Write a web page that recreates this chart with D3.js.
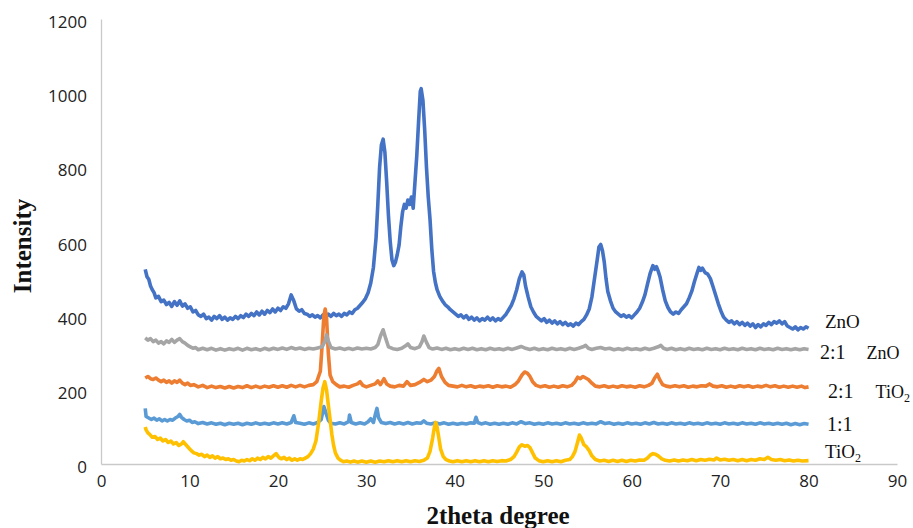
<!DOCTYPE html>
<html>
<head>
<meta charset="utf-8">
<script src="https://cdn.jsdelivr.net/npm/d3@7"></script>
<style>
  html, body { margin: 0; padding: 0; background: #fff; }
  svg { display: block; }
  .axis path { stroke: #c9c9c9; stroke-width: 1.3; }
  .axis text { font-family: "Open Sans", "Noto Sans", sans-serif; font-size: 17px; fill: #222; }
  .title { font-family: "Liberation Serif", "DejaVu Serif", serif; font-weight: bold; fill: #111; }
  .lbl { font-family: "Liberation Serif", "DejaVu Serif", serif; fill: #111; }
  .curve { fill: none; stroke-width: 3.6; stroke-linejoin: round; }
</style>
</head>
<body>
<div id="chart"></div>
<script>
/* ================= Data ================= */

const xTicks = [0, 10, 20, 30, 40, 50, 60, 70, 80, 90];
const yTicks = [0, 200, 400, 600, 800, 1000, 1200];

const seriesNames = ["ZnO", "1:1", "2:1 TiO2", "2:1 ZnO", "TiO2"];

// [2theta, intensity]
const zno = [
  [5.0,525],[5.2,505],[5.4,498],[5.6,480],[5.8,470],[6.0,462],[6.2,448],[6.5,452],[6.8,438],[7.1,442],
  [7.4,430],[7.7,436],[8.0,425],[8.3,438],[8.6,428],[8.9,440],[9.2,426],[9.5,432],[9.8,420],[10.1,424],
  [10.4,410],[10.7,414],[11.0,402],[11.3,398],[11.6,404],[11.9,392],[12.2,396],[12.5,388],[12.8,398],[13.1,392],
  [13.4,400],[13.7,390],[14.0,396],[14.3,388],[14.6,394],[14.9,390],[15.2,398],[15.5,392],[15.8,400],[16.1,395],
  [16.4,404],[16.7,398],[17.0,406],[17.3,400],[17.6,410],[17.9,402],[18.2,412],[18.5,404],[18.8,414],[19.1,408],
  [19.4,418],[19.7,410],[20.0,420],[20.3,414],[20.6,424],[20.9,420],[21.2,432],[21.5,456],[21.8,440],[22.1,418],
  [22.4,412],[22.7,416],[23.0,406],[23.3,404],[23.6,398],[23.9,402],[24.2,396],[24.5,400],[24.8,394],[25.1,402],
  [25.4,396],[25.7,404],[26.0,398],[26.3,406],[26.6,400],[26.9,404],[27.2,398],[27.5,406],[27.8,402],[28.1,410],
  [28.4,406],[28.7,416],[29.0,420],[29.3,428],[29.6,436],[29.9,446],[30.2,462],[30.5,488],[30.8,530],[31.1,610],
  [31.3,700],[31.5,800],[31.7,860],[31.9,876],[32.1,840],[32.3,760],[32.5,670],[32.7,600],[32.9,550],[33.1,535],
  [33.3,545],[33.5,565],[33.7,590],[33.9,640],[34.1,680],[34.3,700],[34.5,690],[34.7,712],[34.9,700],[35.1,720],
  [35.3,690],[35.5,760],[35.7,830],[35.9,920],[36.1,1005],[36.2,1012],[36.4,980],[36.6,900],[36.8,800],[37.0,720],
  [37.2,660],[37.4,580],[37.6,520],[37.8,490],[38.0,470],[38.3,452],[38.6,440],[38.9,430],[39.2,424],[39.5,416],
  [39.8,410],[40.1,404],[40.4,398],[40.7,402],[41.0,394],[41.3,400],[41.6,390],[41.9,396],[42.2,388],[42.5,394],
  [42.8,386],[43.1,392],[43.4,388],[43.7,396],[44.0,388],[44.3,394],[44.6,386],[44.9,392],[45.2,388],[45.5,396],
  [45.8,404],[46.1,416],[46.4,428],[46.7,446],[47.0,470],[47.3,500],[47.6,518],[47.8,510],[48.0,480],[48.3,450],
  [48.6,424],[48.9,410],[49.2,398],[49.5,392],[49.8,386],[50.1,392],[50.4,382],[50.7,388],[51.0,380],[51.3,386],
  [51.6,378],[51.9,384],[52.2,376],[52.5,382],[52.8,374],[53.1,378],[53.4,372],[53.7,380],[54.0,376],[54.3,384],
  [54.6,390],[54.9,402],[55.2,418],[55.5,450],[55.8,500],[56.1,550],[56.3,585],[56.5,592],[56.7,575],[56.9,545],
  [57.1,500],[57.3,465],[57.6,440],[57.9,420],[58.2,410],[58.5,404],[58.8,398],[59.1,402],[59.4,396],[59.7,400],
  [60.0,394],[60.3,402],[60.6,410],[60.9,420],[61.2,436],[61.5,456],[61.8,486],[62.1,515],[62.4,535],[62.6,525],
  [62.8,532],[63.0,520],[63.2,505],[63.5,470],[63.8,440],[64.1,422],[64.4,410],[64.7,404],[65.0,410],[65.3,406],
  [65.6,416],[65.9,424],[66.2,432],[66.5,448],[66.8,466],[67.1,492],[67.4,515],[67.6,530],[67.8,522],[68.0,528],
  [68.3,516],[68.6,512],[68.9,500],[69.2,478],[69.5,455],[69.8,432],[70.1,412],[70.4,396],[70.7,388],[71.0,382],
  [71.3,386],[71.6,378],[71.9,384],[72.2,376],[72.5,382],[72.8,374],[73.1,380],[73.4,372],[73.7,378],[74.0,368],
  [74.3,376],[74.6,370],[74.9,378],[75.2,374],[75.5,382],[75.8,376],[76.1,384],[76.4,380],[76.7,386],[77.0,378],
  [77.3,384],[77.6,372],[77.9,368],[78.2,364],[78.5,370],[78.8,362],[79.1,368],[79.4,364],[79.7,370],[80.0,366]
];

const ratio21zno = [
  [5.0,340],[5.3,334],[5.6,338],[5.9,330],[6.2,334],[6.5,326],[6.8,330],[7.1,324],[7.4,332],[7.7,328],
  [8.0,336],[8.3,328],[8.6,334],[8.9,338],[9.2,330],[9.5,326],[9.8,320],[10.1,316],[10.4,312],[10.7,314],
  [11.0,308],[11.5,312],[12.0,308],[12.5,312],[13.0,307],[13.5,311],[14.0,307],[14.5,311],[15.0,308],[15.5,312],
  [16.0,307],[16.5,312],[17.0,308],[17.5,311],[18.0,307],[18.5,312],[19.0,308],[19.5,312],[20.0,309],[20.5,313],
  [21.0,309],[21.5,314],[22.0,310],[22.5,313],[23.0,309],[23.5,312],[24.0,310],[24.5,313],[25.0,316],[25.3,330],
  [25.5,348],[25.7,332],[26.0,314],[26.5,310],[27.0,313],[27.5,309],[28.0,312],[28.5,309],[29.0,313],[29.5,310],
  [30.0,312],[30.5,310],[31.0,314],[31.3,322],[31.6,345],[31.9,362],[32.2,338],[32.5,316],[33.0,311],[33.5,309],
  [34.0,312],[34.4,318],[34.7,324],[35.0,314],[35.5,311],[36.0,316],[36.3,330],[36.5,345],[36.8,328],[37.1,314],
  [37.5,310],[38.0,313],[38.5,309],[39.0,312],[39.5,308],[40.0,311],[40.5,308],[41.0,312],[41.5,309],[42.0,312],
  [42.5,308],[43.0,311],[43.5,308],[44.0,312],[44.5,309],[45.0,311],[45.5,308],[46.0,312],[46.5,309],[47.0,313],
  [47.5,317],[48.0,312],[48.5,309],[49.0,312],[49.5,308],[50.0,311],[50.5,308],[51.0,312],[51.5,309],[52.0,311],
  [52.5,308],[53.0,312],[53.5,309],[54.0,312],[54.5,316],[54.8,320],[55.1,312],[55.5,309],[56.0,312],[56.5,314],
  [57.0,310],[57.5,312],[58.0,308],[58.5,311],[59.0,308],[59.5,312],[60.0,309],[60.5,311],[61.0,308],[61.5,312],
  [62.0,309],[62.5,312],[63.0,316],[63.3,320],[63.6,312],[64.0,309],[64.5,312],[65.0,308],[65.5,311],[66.0,308],
  [66.5,312],[67.0,309],[67.5,311],[68.0,308],[68.5,312],[69.0,309],[69.5,311],[70.0,308],[70.5,312],[71.0,309],
  [71.5,311],[72.0,308],[72.5,312],[73.0,309],[73.5,311],[74.0,308],[74.5,312],[75.0,309],[75.5,311],[76.0,308],
  [76.5,312],[77.0,309],[77.5,311],[78.0,308],[78.5,311],[79.0,308],[79.5,311],[80.0,309]
];

const ratio21tio2 = [
  [5.0,232],[5.3,236],[5.6,230],[5.9,228],[6.2,232],[6.5,226],[6.8,222],[7.1,226],[7.4,220],[7.7,224],
  [8.0,218],[8.3,224],[8.6,220],[8.9,226],[9.2,218],[9.5,214],[9.8,218],[10.1,212],[10.5,214],[11.0,208],
  [11.5,212],[12.0,206],[12.5,210],[13.0,206],[13.5,209],[14.0,205],[14.5,209],[15.0,205],[15.5,209],[16.0,206],
  [16.5,211],[17.0,206],[17.5,210],[18.0,206],[18.5,210],[19.0,207],[19.5,211],[20.0,207],[20.5,211],[21.0,207],
  [21.5,212],[22.0,208],[22.5,212],[23.0,208],[23.5,212],[24.0,214],[24.4,222],[24.8,250],[25.0,320],[25.2,400],
  [25.35,418],[25.5,395],[25.7,300],[25.9,240],[26.2,222],[26.6,214],[27.0,208],[27.5,210],[28.0,207],[28.5,212],
  [29.0,216],[29.3,222],[29.6,212],[30.0,208],[30.5,212],[31.0,216],[31.3,224],[31.6,214],[32.0,230],[32.3,216],
  [32.7,210],[33.2,208],[33.7,212],[34.2,210],[34.6,222],[35.0,212],[35.5,214],[36.0,220],[36.5,228],[36.9,222],
  [37.3,226],[37.7,236],[38.0,252],[38.2,258],[38.5,236],[38.9,220],[39.3,212],[39.8,210],[40.3,208],[40.8,212],
  [41.3,208],[41.8,211],[42.3,207],[42.8,210],[43.3,208],[43.8,211],[44.3,207],[44.8,211],[45.3,208],[45.8,210],
  [46.3,207],[46.8,214],[47.2,224],[47.6,240],[47.9,248],[48.2,245],[48.5,236],[48.8,222],[49.2,212],[49.7,208],
  [50.2,211],[50.7,207],[51.2,210],[51.7,207],[52.2,211],[52.7,208],[53.2,212],[53.6,222],[53.9,234],[54.2,230],
  [54.5,236],[54.8,232],[55.1,228],[55.5,218],[55.9,210],[56.4,208],[56.9,211],[57.4,207],[57.9,210],[58.4,207],
  [58.9,211],[59.4,208],[59.9,210],[60.4,207],[60.9,211],[61.4,208],[61.9,212],[62.3,218],[62.6,232],[62.9,242],
  [63.2,226],[63.5,214],[63.9,210],[64.4,208],[64.9,211],[65.4,208],[65.9,211],[66.4,207],[66.9,210],[67.4,208],
  [67.9,211],[68.4,210],[68.8,216],[69.2,210],[69.7,208],[70.2,211],[70.7,207],[71.2,210],[71.7,207],[72.2,211],
  [72.7,208],[73.2,211],[73.7,207],[74.2,210],[74.7,208],[75.2,212],[75.7,208],[76.2,211],[76.7,207],[77.2,210],
  [77.7,207],[78.2,210],[78.7,207],[79.2,210],[79.6,206],[80.0,208]
];

const ratio11 = [
  [5.0,150],[5.1,128],[5.4,124],[5.7,120],[6.0,124],[6.3,118],[6.6,122],[6.9,116],[7.2,120],[7.5,116],
  [7.8,120],[8.1,118],[8.4,124],[8.7,128],[8.9,134],[9.1,126],[9.4,120],[9.7,116],[10.0,118],[10.3,112],
  [10.6,114],[11.0,109],[11.5,112],[12.0,108],[12.5,111],[13.0,107],[13.5,110],[14.0,106],[14.5,110],[15.0,107],
  [15.5,110],[16.0,106],[16.5,110],[17.0,107],[17.5,111],[18.0,107],[18.5,110],[19.0,107],[19.5,111],[20.0,108],
  [20.5,111],[21.0,108],[21.5,112],[21.8,130],[22.0,112],[22.5,110],[23.0,107],[23.5,111],[24.0,108],[24.5,112],
  [24.9,120],[25.2,155],[25.4,140],[25.7,118],[26.0,110],[26.5,108],[27.0,111],[27.5,108],[28.0,114],[28.1,132],
  [28.3,112],[28.8,108],[29.3,111],[29.8,108],[30.2,114],[30.5,122],[30.8,112],[31.0,132],[31.2,150],[31.4,124],
  [31.7,112],[32.2,109],[32.7,112],[33.2,108],[33.7,111],[34.2,108],[34.7,112],[35.2,108],[35.7,111],[36.2,110],
  [36.5,116],[36.8,110],[37.3,108],[37.8,111],[38.3,108],[38.8,111],[39.3,107],[39.8,110],[40.3,107],[40.8,110],
  [41.3,108],[41.8,111],[42.2,110],[42.4,126],[42.6,112],[43.0,108],[43.5,111],[44.0,107],[44.5,110],[45.0,107],
  [45.5,110],[46.0,107],[46.5,111],[47.0,108],[47.5,114],[48.0,109],[48.5,111],[49.0,107],[49.5,110],[50.0,107],
  [50.5,111],[51.0,108],[51.5,110],[52.0,107],[52.5,111],[53.0,108],[53.5,110],[54.0,107],[54.5,111],[55.0,108],
  [55.5,110],[56.0,108],[56.5,114],[57.0,109],[57.5,111],[58.0,107],[58.5,110],[59.0,107],[59.5,111],[60.0,108],
  [60.5,110],[61.0,107],[61.5,111],[62.0,108],[62.5,112],[63.0,108],[63.5,110],[64.0,107],[64.5,111],[65.0,108],
  [65.5,110],[66.0,107],[66.5,111],[67.0,108],[67.5,110],[68.0,107],[68.5,111],[69.0,108],[69.5,110],[70.0,107],
  [70.5,111],[71.0,108],[71.5,110],[72.0,107],[72.5,111],[73.0,108],[73.5,110],[74.0,107],[74.5,111],[75.0,108],
  [75.5,110],[76.0,107],[76.5,110],[77.0,107],[77.5,110],[78.0,106],[78.5,109],[79.0,106],[79.5,109],[80.0,107]
];

const tio2 = [
  [5.0,100],[5.1,92],[5.3,84],[5.5,80],[5.8,72],[6.1,74],[6.4,66],[6.7,70],[7.0,62],[7.3,66],
  [7.6,58],[7.9,62],[8.2,54],[8.5,58],[8.8,50],[9.1,54],[9.3,60],[9.6,52],[9.9,44],[10.2,36],
  [10.5,30],[10.8,28],[11.1,24],[11.4,26],[11.7,20],[12.0,24],[12.3,18],[12.6,22],[12.9,16],[13.2,20],
  [13.5,14],[13.8,16],[14.1,12],[14.4,14],[14.7,10],[15.0,12],[15.3,8],[15.6,6],[15.9,10],[16.2,8],
  [16.5,12],[16.8,9],[17.1,14],[17.4,10],[17.7,16],[18.0,12],[18.3,18],[18.6,14],[18.9,20],[19.2,16],
  [19.5,22],[19.8,28],[20.1,18],[20.4,14],[20.7,18],[21.0,12],[21.3,16],[21.6,10],[21.9,14],[22.2,10],
  [22.5,14],[22.8,12],[23.1,16],[23.4,20],[23.7,28],[24.0,40],[24.3,62],[24.6,110],[24.9,170],[25.1,205],
  [25.3,222],[25.5,200],[25.7,160],[25.9,120],[26.1,80],[26.3,50],[26.5,30],[26.8,16],[27.1,10],[27.4,6],
  [27.8,8],[28.2,5],[28.6,8],[29.0,5],[29.5,8],[30.0,5],[30.5,8],[31.0,5],[31.5,8],[32.0,6],
  [32.5,9],[33.0,6],[33.5,9],[34.0,6],[34.5,9],[35.0,6],[35.5,9],[36.0,7],[36.5,10],[36.9,16],
  [37.2,34],[37.5,70],[37.7,100],[37.85,112],[38.0,100],[38.2,70],[38.4,40],[38.7,20],[39.0,12],[39.4,8],
  [39.8,6],[40.3,9],[40.8,6],[41.3,9],[41.8,6],[42.3,9],[42.8,6],[43.3,9],[43.8,6],[44.3,9],
  [44.8,7],[45.3,9],[45.8,8],[46.3,12],[46.7,20],[47.0,32],[47.3,46],[47.6,52],[47.9,48],[48.2,50],
  [48.5,44],[48.8,30],[49.1,16],[49.5,9],[50.0,6],[50.5,9],[51.0,6],[51.5,9],[52.0,6],[52.5,10],
  [53.0,12],[53.3,20],[53.6,34],[53.9,60],[54.1,78],[54.3,70],[54.6,52],[54.9,46],[55.2,36],[55.5,22],
  [55.9,12],[56.4,8],[56.9,10],[57.4,7],[57.9,10],[58.4,7],[58.9,10],[59.4,7],[59.9,10],[60.4,8],
  [60.9,11],[61.4,10],[61.8,16],[62.1,24],[62.4,28],[62.7,26],[63.0,22],[63.4,14],[63.8,10],[64.3,8],
  [64.8,11],[65.3,8],[65.8,11],[66.3,9],[66.8,12],[67.3,9],[67.8,12],[68.3,10],[68.8,13],[69.3,11],
  [69.6,16],[70.0,11],[70.5,13],[71.0,10],[71.5,12],[72.0,9],[72.5,12],[73.0,9],[73.5,12],[74.0,10],
  [74.5,14],[75.0,12],[75.4,18],[75.8,12],[76.3,10],[76.8,12],[77.3,9],[77.8,11],[78.3,8],[78.8,10],
  [79.3,8],[80.0,9]
];

const seriesData = [zno, ratio11, ratio21tio2, ratio21zno, tio2];

/* ================= Layout / style ================= */

const W = 913, H = 528;
const colors = ["#4472C4", "#5B9BD5", "#ED7D31", "#A5A5A5", "#FFC000"];

const svg = d3.select("#chart").append("svg")
  .attr("width", W)
  .attr("height", H);

const x = d3.scaleLinear().domain([0, 90]).range([101, 897]);
const y = d3.scaleLinear().domain([0, 1200]).range([464, 19]);

/* ===== Axes ===== */

svg.append("g")
  .attr("class", "axis")
  .attr("transform", `translate(0,${y(0)})`)
  .call(d3.axisBottom(x).tickValues(xTicks).tickSize(0).tickPadding(11).tickFormat(d3.format("d")));

const yAxis = svg.append("g")
  .attr("class", "axis")
  .attr("transform", `translate(${x(0)},0)`)
  .call(d3.axisLeft(y).tickValues(yTicks).tickSize(0).tickPadding(14).tickFormat(d3.format("d")));

yAxis.selectAll("text").attr("dy", "0.5em");

/* ===== Lines ===== */

const line = d3.line()
  .x(d => x(d[0]))
  .y(d => y(d[1]));

svg.selectAll(".curve")
  .data(seriesData)
  .enter()
  .append("path")
  .attr("class", "curve")
  .attr("stroke", (d, i) => colors[i])
  .attr("stroke-width", (d, i) => i === 0 ? 4 : 3.6)
  .attr("d", line);

/* ===== Titles ===== */

svg.append("text")
  .attr("class", "title")
  .attr("x", 498)
  .attr("y", 524)
  .attr("text-anchor", "middle")
  .style("font-size", "25px")
  .text("2theta degree");

svg.append("text")
  .attr("class", "title")
  .attr("transform", "translate(31,246) rotate(-90)")
  .attr("text-anchor", "middle")
  .style("font-size", "25px")
  .text("Intensity");

/* ===== Series labels ===== */

const labelSpots = [
  { x: 825, y: 328, parts: [["ZnO", 19, 0]] },
  { x: 820, y: 359, parts: [["2:1", 20, 0], ["ZnO", 18, 21]] },
  { x: 828, y: 398, parts: [["2:1", 20, 0], ["TiO", 18, 22], ["2", 12, 0, 4]] },
  { x: 827, y: 431, parts: [["1:1", 20, 0]] },
  { x: 825, y: 458, parts: [["TiO", 19, 0], ["2", 12, 0, 4]] }
];

labelSpots.forEach((s, i) => {
  const t = svg.append("text")
    .attr("class", "lbl")
    .attr("x", s.x)
    .attr("y", s.y)
    .attr("data-series", seriesNames[i]);
  s.parts.forEach(p => {
    const ts = t.append("tspan")
      .style("font-size", p[1] + "px")
      .text(p[0]);
    if (p[2]) ts.attr("dx", p[2]);
    if (p[3]) ts.attr("dy", p[3]);
  });
});
</script>
</body>
</html>
